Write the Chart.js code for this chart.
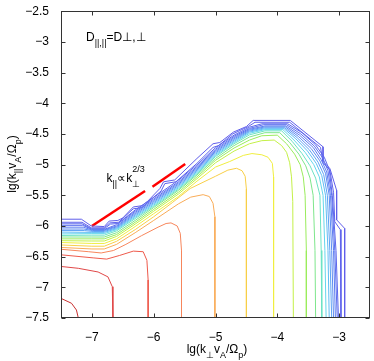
<!DOCTYPE html>
<html>
<head>
<meta charset="utf-8">
<script src="https://cdn.jsdelivr.net/npm/chart.js@4.4.0/dist/chart.umd.min.js"></script>
<style>
  html, body { margin: 0; padding: 0; background: #fff; }
</style>
</head>
<body>
<canvas id="c" width="374" height="361"></canvas>
<script>
// axis ticks
const xTicks = [-7, -6, -5, -4, -3];
const yTicks = [-7.5, -7, -6.5, -6, -5.5, -5, -4.5, -4, -3.5, -3, -2.5];

// contour lines, [lg(k_perp vA/Op), lg(k_par vA/Op)]
// lvl01 is the innermost (red), lvl20 the outermost (blue)
const lvl01 = [[-7.5,-7.18],[-7.33,-7.26],[-7.25,-7.37],[-7.22,-7.5]];
const lvl02 = [[-7.5,-6.66],[-7.22,-6.69],[-6.90,-6.75],[-6.74,-6.83],[-6.67,-6.99],[-6.66,-7.21],[-6.66,-7.5]];
const lvl03 = [[-7.5,-6.47],[-6.98,-6.52],[-6.76,-6.54],[-6.55,-6.48],[-6.33,-6.41],[-6.17,-6.42],[-6.11,-6.56],[-6.09,-6.88],[-6.09,-7.5]];
const lvl04 = [[-7.5,-6.38],[-7.05,-6.42],[-6.85,-6.44],[-6.65,-6.40],[-6.45,-6.30],[-6.2,-6.16],[-5.93,-6.02],[-5.80,-5.96],[-5.72,-5.95],[-5.62,-6.0],[-5.57,-6.12],[-5.55,-6.4],[-5.55,-7.5]];
const lvl05 = [[-7.5,-6.35],[-7.0,-6.375],[-6.8,-6.375],[-6.6,-6.30],[-6.3,-6.11],[-6.0,-5.91],[-5.6,-5.64],[-5.4,-5.53],[-5.2,-5.49],[-5.1,-5.52],[-5.04,-5.63],[-5.01,-5.85],[-5.01,-7.5]];
const lvl06 = [[-7.5,-6.31],[-7.0,-6.33],[-6.8,-6.33],[-6.6,-6.25],[-6.3,-6.06],[-6.0,-5.85],[-5.7,-5.62],[-5.41,-5.39],[-5.0,-5.19],[-4.8,-5.09],[-4.66,-5.06],[-4.57,-5.10],[-4.52,-5.19],[-4.50,-5.4],[-4.50,-7.5]];
const lvl07 = [[-7.5,-6.27],[-7.0,-6.285],[-6.8,-6.285],[-6.6,-6.21],[-6.3,-6.01],[-6.0,-5.80],[-5.6,-5.52],[-5.3,-5.27],[-5.0,-5.04],[-4.77,-4.95],[-4.55,-4.85],[-4.41,-4.82],[-4.25,-4.84],[-4.15,-4.88],[-4.08,-4.98],[-4.06,-5.2],[-4.06,-7.5]];
const lvl08 = [[-7.5,-6.24],[-7.0,-6.245],[-6.8,-6.245],[-6.6,-6.17],[-6.3,-5.97],[-6.0,-5.76],[-5.6,-5.48],[-5.3,-5.23],[-5.0,-4.97],[-4.7,-4.78],[-4.45,-4.66],[-4.25,-4.61],[-4.05,-4.60],[-3.93,-4.69],[-3.85,-4.80],[-3.80,-4.97],[-3.77,-5.2],[-3.75,-5.6],[-3.74,-7.5]];
const lvl09 = [[-7.5,-6.21],[-7.0,-6.21],[-6.8,-6.21],[-6.6,-6.14],[-6.3,-5.94],[-6.0,-5.73],[-5.6,-5.45],[-5.3,-5.20],[-5.0,-4.93],[-4.7,-4.73],[-4.45,-4.60],[-4.25,-4.53],[-4.00,-4.52],[-3.85,-4.66],[-3.72,-4.83],[-3.63,-5.00],[-3.58,-5.2],[-3.55,-5.5],[-3.53,-6.4],[-3.53,-7.5]];
const lvl10 = [[-7.5,-6.18],[-7.0,-6.18],[-6.8,-6.18],[-6.6,-6.11],[-6.3,-5.91],[-6.0,-5.70],[-5.6,-5.42],[-5.3,-5.17],[-5.0,-4.90],[-4.7,-4.69],[-4.45,-4.55],[-4.2,-4.48],[-3.96,-4.48],[-3.80,-4.64],[-3.65,-4.83],[-3.54,-5.02],[-3.47,-5.22],[-3.42,-5.5],[-3.39,-6.4],[-3.38,-7.5]];
const lvl11 = [[-7.5,-6.155],[-7.0,-6.15],[-6.8,-6.15],[-6.6,-6.08],[-6.3,-5.88],[-6.0,-5.68],[-5.6,-5.40],[-5.3,-5.15],[-5.0,-4.87],[-4.7,-4.66],[-4.45,-4.515],[-4.2,-4.45],[-3.93,-4.45],[-3.76,-4.62],[-3.60,-4.82],[-3.47,-5.02],[-3.38,-5.22],[-3.31,-5.5],[-3.29,-6.4],[-3.28,-7.5]];
const lvl12 = [[-7.5,-6.13],[-7.0,-6.125],[-6.8,-6.125],[-6.6,-6.06],[-6.3,-5.86],[-6.0,-5.66],[-5.6,-5.38],[-5.3,-5.13],[-5.0,-4.85],[-4.7,-4.64],[-4.45,-4.49],[-4.2,-4.43],[-3.91,-4.43],[-3.73,-4.60],[-3.55,-4.80],[-3.41,-5.0],[-3.32,-5.2],[-3.26,-5.5],[-3.23,-6.4],[-3.21,-7.5]];
const lvl13 = [[-7.5,-6.10],[-7.0,-6.105],[-6.8,-6.105],[-6.6,-6.045],[-6.3,-5.84],[-6.0,-5.64],[-5.6,-5.36],[-5.3,-5.11],[-5.0,-4.83],[-4.7,-4.62],[-4.45,-4.47],[-4.2,-4.415],[-3.89,-4.415],[-3.70,-4.58],[-3.51,-4.78],[-3.37,-4.98],[-3.28,-5.18],[-3.22,-5.5],[-3.18,-6.4],[-3.16,-7.5]];
const lvl14 = [[-7.5,-6.075],[-7.12,-6.075],[-6.98,-6.09],[-6.8,-6.09],[-6.6,-6.03],[-6.3,-5.82],[-6.0,-5.62],[-5.6,-5.34],[-5.3,-5.09],[-5.0,-4.81],[-4.7,-4.60],[-4.45,-4.455],[-4.2,-4.40],[-3.88,-4.40],[-3.68,-4.56],[-3.48,-4.76],[-3.34,-4.96],[-3.25,-5.16],[-3.19,-5.5],[-3.15,-6.4],[-3.12,-7.5]];
const lvl15 = [[-7.5,-6.05],[-7.13,-6.05],[-6.99,-6.075],[-6.8,-6.075],[-6.6,-6.015],[-6.3,-5.80],[-6.0,-5.60],[-5.6,-5.32],[-5.3,-5.07],[-5.0,-4.79],[-4.7,-4.58],[-4.45,-4.44],[-4.2,-4.385],[-3.87,-4.385],[-3.66,-4.54],[-3.45,-4.74],[-3.31,-4.94],[-3.22,-5.14],[-3.16,-5.5],[-3.12,-6.4],[-3.09,-7.5]];
const lvl16 = [[-7.5,-6.02],[-7.14,-6.02],[-7.0,-6.065],[-6.8,-6.065],[-6.6,-6.0],[-6.3,-5.78],[-6.0,-5.58],[-5.6,-5.30],[-5.3,-5.05],[-5.0,-4.77],[-4.7,-4.56],[-4.45,-4.425],[-4.2,-4.37],[-3.86,-4.37],[-3.64,-4.52],[-3.42,-4.72],[-3.29,-4.92],[-3.20,-5.12],[-3.14,-5.5],[-3.09,-6.4],[-3.06,-7.5]];
const lvl17 = [[-7.5,-5.99],[-7.15,-5.99],[-7.0,-6.055],[-6.8,-6.055],[-6.6,-5.98],[-6.3,-5.76],[-6.0,-5.56],[-5.6,-5.28],[-5.3,-5.03],[-5.0,-4.75],[-4.7,-4.54],[-4.45,-4.41],[-4.22,-4.35],[-3.85,-4.35],[-3.62,-4.50],[-3.40,-4.70],[-3.26,-4.90],[-3.18,-5.10],[-3.12,-5.5],[-3.07,-6.4],[-3.03,-7.5]];
const lvl18 = [[-7.5,-5.965],[-7.16,-5.965],[-7.01,-6.045],[-6.80,-6.045],[-6.70,-5.97],[-6.58,-5.96],[-6.3,-5.74],[-6.0,-5.535],[-5.6,-5.255],[-5.3,-5.005],[-5.0,-4.725],[-4.7,-4.52],[-4.45,-4.39],[-4.25,-4.335],[-3.83,-4.335],[-3.60,-4.48],[-3.38,-4.68],[-3.24,-4.88],[-3.16,-5.08],[-3.11,-5.5],[-3.05,-6.4],[-3.01,-7.5]];
const lvl19 = [[-7.5,-5.94],[-7.16,-5.94],[-7.01,-6.03],[-6.80,-6.03],[-6.71,-5.95],[-6.57,-5.94],[-6.33,-5.72],[-6.18,-5.70],[-6.06,-5.58],[-5.88,-5.43],[-5.82,-5.31],[-5.64,-5.28],[-5.3,-4.98],[-5.04,-4.72],[-4.95,-4.69],[-4.72,-4.50],[-4.47,-4.38],[-4.36,-4.31],[-3.80,-4.31],[-3.30,-4.72],[-3.26,-4.97],[-3.15,-5.09],[-3.09,-5.45],[-3.07,-5.93],[-2.98,-6.06],[-2.97,-7.5]];
const lvl20 = [[-7.5,-5.89],[-7.17,-5.89],[-7.01,-6.0],[-6.80,-6.01],[-6.72,-5.92],[-6.58,-5.91],[-6.50,-5.87],[-6.33,-5.69],[-6.19,-5.67],[-6.10,-5.60],[-5.90,-5.39],[-5.84,-5.28],[-5.66,-5.25],[-5.30,-4.90],[-5.04,-4.66],[-4.93,-4.64],[-4.71,-4.47],[-4.50,-4.38],[-4.39,-4.28],[-3.79,-4.28],[-3.26,-4.71],[-3.26,-4.95],[-3.15,-5.06],[-3.04,-5.42],[-3.04,-5.90],[-2.91,-6.04],[-2.91,-7.5]];

const levels = [lvl01, lvl02, lvl03, lvl04, lvl05, lvl06, lvl07, lvl08, lvl09, lvl10,
                lvl11, lvl12, lvl13, lvl14, lvl15, lvl16, lvl17, lvl18, lvl19, lvl20];
const levelColors = [
  '#c83030', '#e04848', '#ee5a4c', '#f7865c', '#f9ac58', '#f8cf48', '#f0ee40', '#c4f048',
  '#9aec5c', '#7ee68c', '#6ce2c4', '#64d6ec', '#60bcf4', '#5ea2f4', '#5c8cf2', '#5c7cf0',
  '#5c70ee', '#5c66ec', '#5e62ec', '#605eea'
];

// k_par ∝ k_perp^(2/3) guide, two red dashes
const guideA = [[-7.0, -6.0], [-6.14, -5.43]];
const guideB = [[-6.02, -5.36], [-5.49, -4.99]];

const FONT = '"Liberation Sans", Arial, Helvetica, sans-serif';
const minus = v => String(v).replace('-', '\u2212');
const toXY = pts => pts.map(p => ({x: p[0], y: p[1]}));

const datasets = levels.map((pts, i) => ({
  data: toXY(pts),
  showLine: true,
  borderColor: levelColors[i],
  borderWidth: 1,
  pointRadius: 0,
  tension: 0
}));
[guideA, guideB].forEach(g => datasets.push({
  data: toXY(g),
  showLine: true,
  borderColor: '#ff0000',
  borderWidth: 2.5,
  borderCapStyle: 'butt',
  pointRadius: 0
}));

// text with sub/superscripts, parts = [{t, sub|sup|under}]
function rich(ctx, parts, x, y, size, center) {
  const small = Math.round(size * 0.72);
  const fontOf = p => (p.sub || p.sup || p.under ? small : size) + 'px ' + FONT;
  const adv = p => { ctx.font = fontOf(p); return p.under ? 0 : ctx.measureText(p.t).width; };
  let w = 0;
  parts.forEach(p => { w += adv(p); });
  let cx = center ? x - w / 2 : x;
  parts.forEach(p => {
    ctx.font = fontOf(p);
    const dy = p.sub || p.under ? size * 0.45 : p.sup ? -size * 0.8 : 0;
    ctx.fillText(p.t, cx, y + dy);
    cx += adv(p);
  });
}

const frame = {
  id: 'frame',
  afterDraw(chart) {
    const {ctx, chartArea: a, scales: {x, y}} = chart;
    ctx.save();
    ctx.strokeStyle = '#333';
    ctx.lineWidth = 1;
    const L = Math.round(a.left) + 0.5, R = Math.round(a.right) - 0.5;
    const T = Math.round(a.top) + 0.5, B = Math.round(a.bottom) - 0.5;
    ctx.strokeRect(L, T, R - L, B - T);
    ctx.beginPath();
    xTicks.forEach(v => {
      const p = Math.round(x.getPixelForValue(v)) + 0.5;
      ctx.moveTo(p, B); ctx.lineTo(p, B - 4);
      ctx.moveTo(p, T); ctx.lineTo(p, T + 4);
    });
    yTicks.forEach(v => {
      const p = Math.round(y.getPixelForValue(v)) + 0.5;
      ctx.moveTo(L, p); ctx.lineTo(L + 4, p);
      ctx.moveTo(R, p); ctx.lineTo(R - 4, p);
    });
    ctx.stroke();

    ctx.fillStyle = '#000';
    ctx.textBaseline = 'alphabetic';
    ctx.textAlign = 'left';
    rich(ctx, [{t: 'D'}, {t: '||,||', sub: true}, {t: '=D\u22A5,\u22A5'}], 86, 41, 12);
    rich(ctx, [{t: 'k'}, {t: '||', sub: true}, {t: '\u221Dk'}, {t: '\u22A5', under: true}, {t: '2/3', sup: true}], 106.5, 181.5, 12);
    rich(ctx, [{t: 'lg(k'}, {t: '\u22A5', sub: true}, {t: 'v'}, {t: 'A', sub: true}, {t: '/\u03A9'}, {t: 'p', sub: true}, {t: ')'}], 217, 353, 12, true);
    ctx.translate(16, 164);
    ctx.rotate(-Math.PI / 2);
    rich(ctx, [{t: 'lg(k'}, {t: '||', sub: true}, {t: 'v'}, {t: 'A', sub: true}, {t: '/\u03A9'}, {t: 'p', sub: true}, {t: ')'}], 0, 0, 12, true);
    ctx.restore();
  }
};

const tickFont = {family: FONT, size: 12};

new Chart(document.getElementById('c'), {
  type: 'scatter',
  data: {datasets},
  options: {
    responsive: false,
    animation: false,
    devicePixelRatio: 1,
    layout: {padding: {top: 11, right: 4, left: 0, bottom: 0}},
    plugins: {legend: {display: false}, tooltip: {enabled: false}},
    scales: {
      x: {
        type: 'linear', min: -7.5, max: -2.5,
        grid: {display: false}, border: {display: false},
        afterBuildTicks: s => { s.ticks = xTicks.map(v => ({value: v})); },
        afterFit: s => { s.height = 43; },
        ticks: {font: tickFont, color: '#000', padding: 4, maxRotation: 0, autoSkip: false, callback: v => minus(v)}
      },
      y: {
        type: 'linear', min: -7.5, max: -2.5,
        grid: {display: false}, border: {display: false},
        afterBuildTicks: s => { s.ticks = yTicks.map(v => ({value: v})); },
        afterFit: s => { s.width = 61; },
        ticks: {font: tickFont, color: '#000', padding: 4, autoSkip: false, callback: v => minus(v)}
      }
    }
  },
  plugins: [frame]
});
</script>
</body>
</html>
